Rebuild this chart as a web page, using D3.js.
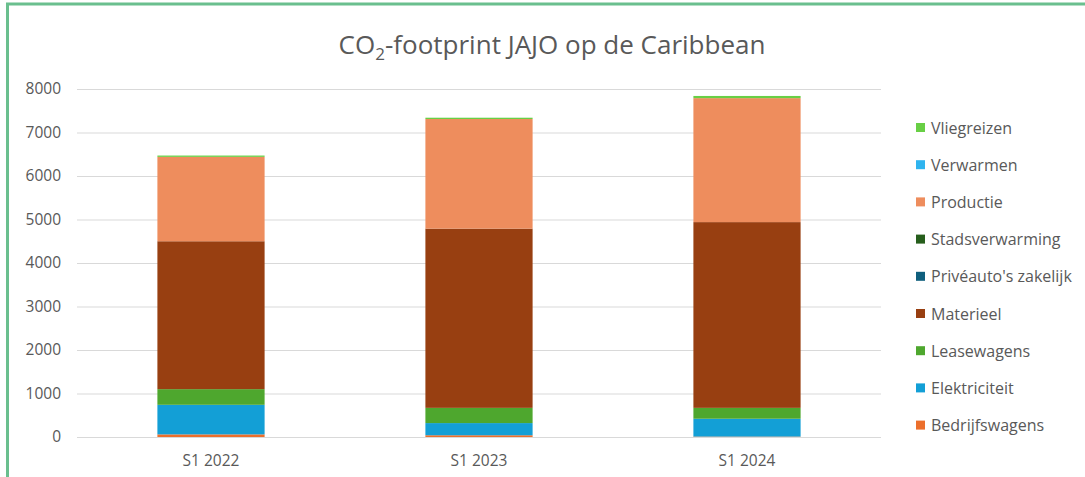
<!DOCTYPE html>
<html><head><meta charset="utf-8">
<script src="https://cdn.jsdelivr.net/npm/d3@7"></script>
<style>body{margin:0;background:#fff;}svg{display:block;font-family:"Open Sans","Noto Sans",sans-serif;}</style>
</head><body>
<svg id="c" width="1085" height="477"></svg>
<script>
const categories = ["S1 2022", "S1 2023", "S1 2024"];
const seriesNames = ["Bedrijfswagens","Elektriciteit","Leasewagens","Materieel","Privéauto's zakelijk","Stadsverwarming","Productie","Verwarmen","Vliegreizen"];
const bedrijfswagens = [60, 40, 10];
const elektriciteit = [680, 280, 410];
const leasewagens = [360, 350, 250];
const materieel = [3400, 4120, 4270];
const priveautos = [0, 0, 0];
const stadsverwarming = [0, 0, 0];
const productie = [1940, 2520, 2850];
const verwarmen = [0, 0, 0];
const vliegreizen = [30, 30, 50];
const yTicks = [0,1000,2000,3000,4000,5000,6000,7000,8000];
const colors = ["#ec6f2c","#139fd6","#4ea72e","#983f11","#0f5f7d","#265e1c","#ee8d5d","#2fb4ef","#68cf45"];

const seriesValues = [bedrijfswagens, elektriciteit, leasewagens, materieel, priveautos, stadsverwarming, productie, verwarmen, vliegreizen];
const rows = categories.map((c,i)=>{const r={cat:c}; seriesNames.forEach((s,j)=>r[s]=seriesValues[j][i]); return r;});
const stack = d3.stack().keys(seriesNames)(rows);

const svg = d3.select("#c");
// frame
svg.append("path").attr("d","M7.5,477 L7.5,4 L1085,4").attr("fill","none").attr("stroke","#6abf8e").attr("stroke-width",3);

const x = d3.scaleBand().domain(categories).range([77,881]).paddingInner(0.6).paddingOuter(0.3);
const y = d3.scaleLinear().domain([0,8000]).range([437,89]);

// grid
svg.append("g").selectAll("line").data(yTicks).join("line")
  .attr("x1",77).attr("x2",881).attr("y1",d=>y(d)+0.5).attr("y2",d=>y(d)+0.5)
  .attr("stroke","#d9d9d9").attr("stroke-width",1);

// y labels
const yAxis = d3.axisLeft(y).tickValues(yTicks).tickFormat(d3.format("d")).tickSize(0).tickPadding(0);
const ga = svg.append("g").attr("transform","translate(61,0)").call(yAxis);
ga.select(".domain").remove();
ga.selectAll("text").attr("fill","#595959").attr("font-size",15.5).attr("font-family","'Open Sans',sans-serif");

// bars
svg.append("g").selectAll("g").data(stack).join("g").attr("fill",(d,i)=>colors[i])
  .selectAll("rect").data(d=>d).join("rect")
  .attr("x",d=>x(d.data.cat)).attr("width",x.bandwidth())
  .attr("y",d=>y(d[1])).attr("height",d=>Math.max(0,y(d[0])-y(d[1])));

// x labels
const xAxis = d3.axisBottom(x).tickSize(0).tickPadding(0);
const gx = svg.append("g").attr("transform","translate(0,455)").call(xAxis);
gx.select(".domain").remove();
gx.selectAll("text").attr("fill","#595959").attr("font-size",15.5).attr("font-family","'Open Sans',sans-serif");

// title
const t = svg.append("text").attr("x",552).attr("y",54).attr("text-anchor","middle")
  .attr("fill","#595959").attr("font-size",26).attr("font-family","'Open Sans',sans-serif");
t.append("tspan").text("CO");
t.append("tspan").attr("font-size",17).attr("dy",6).text("2");
t.append("tspan").attr("dy",-6).text("-footprint JAJO op de Caribbean");

// legend
const legendOrder = seriesNames.map((s,i)=>({s,i})).reverse();
const lg = svg.append("g").selectAll("g").data(legendOrder).join("g")
  .attr("transform",(d,k)=>`translate(916,${128+k*37.2})`);
lg.append("rect").attr("x",0).attr("y",-5).attr("width",9).attr("height",9).attr("fill",d=>colors[d.i]);
lg.append("text").attr("x",15).attr("y",0).attr("dy","0.35em").attr("fill","#595959")
  .attr("font-size",16).attr("font-family","'Open Sans',sans-serif").text(d=>d.s);
</script>
</body></html>
